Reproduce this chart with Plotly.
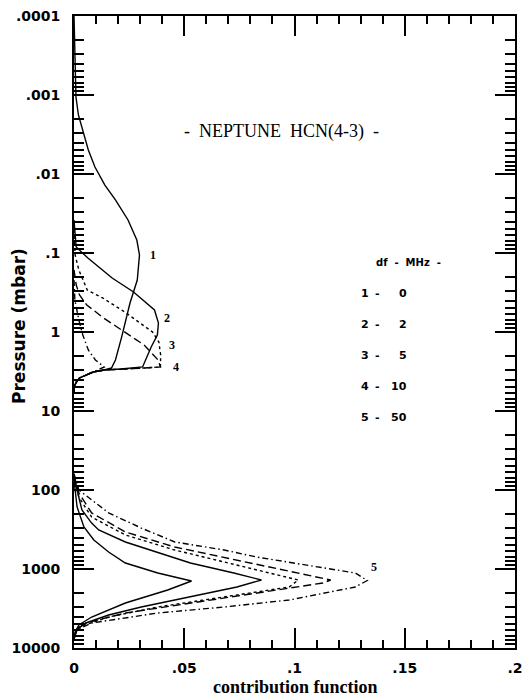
import math
import plotly.graph_objects as go

# ---- data: pressure (mbar) vs contribution function ----
# stratospheric (upper) lobes, one per frequency offset
p_up1 = [1.0e-4, 1.5e-4, 3.6e-4, 1.06e-3, 1.79e-3, 3.03e-3, 4.97e-3, 8.15e-3, 0.0138, 0.0213, 0.0382, 0.0685, 0.106, 0.22, 0.43, 1.16, 2.26, 2.86]
cf_up1 = [0.0, 0.0002, 0.0004, 0.0009, 0.002, 0.0043, 0.0065, 0.0095, 0.014, 0.0188, 0.0245, 0.0285, 0.0297, 0.0287, 0.0254, 0.0216, 0.0188, 0.017]
p_up2 = [0.0382, 0.0512, 0.0839, 0.116, 0.207, 0.312, 0.371, 0.527, 0.769, 1.09, 1.55, 2.26, 2.77]
cf_up2 = [0.0, 0.0003, 0.001, 0.0063, 0.0173, 0.027, 0.030, 0.0365, 0.0383, 0.0378, 0.035, 0.0325, 0.0311]
p_up3 = [0.0512, 0.106, 0.164, 0.294, 0.371, 0.558, 1.0, 1.34, 1.96, 2.77]
cf_up3 = [0.0, 0.0005, 0.0022, 0.006, 0.013, 0.023, 0.0356, 0.0385, 0.0393, 0.0392]
p_up4 = [0.164, 0.254, 0.34, 0.455, 0.665, 0.944, 1.46, 2.26, 2.77]
cf_up4 = [0.0, 0.001, 0.0025, 0.0058, 0.0134, 0.0214, 0.0318, 0.0381, 0.0392]
p_up5 = [0.22, 0.394, 0.705, 1.09, 1.69, 2.26, 2.77]
cf_up5 = [0.0, 0.0004, 0.0022, 0.004, 0.0065, 0.0097, 0.0137]
# common sharp cut-off at the bottom of the stratospheric lobes
p_base = [2.86, 2.94, 3.03, 3.21, 3.50, 3.82, 4.29, 4.83, 5.75]
cf_base = [0.0316, 0.0213, 0.0137, 0.0087, 0.0056, 0.0025, 0.0011, 0.0002, 0.0]

# tropospheric (lower) lobes
p_lo1 = [74.7, 123, 164, 294, 430, 609, 840, 1124, 1262, 1419, 1845, 2692, 4052, 5117, 6300, 7920]
cf_lo1 = [0.0, 0.0009, 0.0014, 0.0045, 0.009, 0.0157, 0.0233, 0.038, 0.0457, 0.0533, 0.0425, 0.0233, 0.008, 0.0022, 0.0005, 0.0]
p_lo2 = [70, 100, 134, 179, 262, 321, 455, 527, 726, 840, 1124, 1377, 1690, 2261, 3029, 3822, 4826, 5916, 7920]
cf_lo2 = [0.0, 0.0013, 0.0022, 0.0036, 0.008, 0.0112, 0.0233, 0.0305, 0.0457, 0.0528, 0.0725, 0.085, 0.0739, 0.0528, 0.0305, 0.0157, 0.0054, 0.0009, 0.0]
p_lo3 = [68, 123, 220, 371, 575, 1030, 1377, 1690, 2261, 3029, 4052, 5424, 6843, 7920]
cf_lo3 = [0.0, 0.0022, 0.008, 0.0233, 0.0457, 0.0828, 0.1017, 0.0976, 0.068, 0.038, 0.0157, 0.0022, 0.0004, 0.0]
p_lo4 = [65, 109, 195, 340, 527, 769, 1030, 1377, 1503, 2013, 2692, 3608, 4826, 5916, 7920]
cf_lo4 = [0.0, 0.0022, 0.008, 0.0233, 0.0457, 0.0739, 0.0963, 0.1164, 0.1129, 0.0828, 0.0528, 0.0233, 0.0054, 0.0009, 0.0]
p_lo5 = [62, 100, 195, 303, 455, 575, 705, 1124, 1400, 1690, 2467, 3029, 3608, 4826, 5916, 7920]
cf_lo5 = [0.0, 0.0022, 0.0157, 0.0305, 0.0457, 0.0681, 0.0828, 0.1276, 0.133, 0.1276, 0.0976, 0.068, 0.038, 0.008, 0.0013, 0.0]

curve_ids = ["1", "2", "3", "4", "5"]
df_mhz = ["0", "2", "5", "10", "50"]
dashes = ["solid", "solid", "3px,3px", "8px,4px", "6px,3px,1.5px,3px"]

# curve-number label positions (pressure, cf)
lab_p = [0.106, 0.665, 1.46, 2.77, 944]
lab_cf = [0.0335, 0.0398, 0.042, 0.044, 0.134]

ytick_vals = [1e-4, 1e-3, 1e-2, 1e-1, 1, 10, 100, 1000, 10000]
ytick_text = [".0001", ".001", ".01", ".1", "1", "10", "100", "1000", "10000"]
xtick_vals = [0, 0.05, 0.1, 0.15, 0.2]
xtick_text = ["0", ".05", ".1", ".15", ".2"]
X_MAX = 0.2
LOG_BOTTOM, LOG_TOP = 4, -4

uppers = [(p_up1, cf_up1), (p_up2, cf_up2), (p_up3, cf_up3), (p_up4, cf_up4), (p_up5, cf_up5)]
lowers = [(p_lo1, cf_lo1), (p_lo2, cf_lo2), (p_lo3, cf_lo3), (p_lo4, cf_lo4), (p_lo5, cf_lo5)]

fig = go.Figure()
for i in range(5):
    pu, cu = uppers[i]
    pl, cl = lowers[i]
    pp = list(pu)
    cc = list(cu)
    for pb, cb in zip(p_base, cf_base):
        if pb > pu[-1] and cb < cu[-1]:
            pp.append(pb)
            cc.append(cb)
    pp += [None] + list(pl)
    cc += [None] + list(cl)
    fig.add_trace(go.Scatter(x=cc, y=pp, mode="lines", connectgaps=False,
                             line=dict(color="black", width=1.4, dash=dashes[i]),
                             showlegend=False, hoverinfo="skip"))

LEFT, RIGHT, TOP, BOTTOM = 74, 523, 16, 648
W, H = 531, 698
pw, ph = RIGHT - LEFT, BOTTOM - TOP

def px(x):
    return (x - LEFT) / pw

def py(y):
    return (BOTTOM - y) / ph

tickfont = dict(family="DejaVu Sans", size=14, color="black", weight="bold")
NB = "\u00a0"

annotations = []
for i in range(5):
    annotations.append(dict(x=lab_cf[i], y=math.log10(lab_p[i]), xref="x", yref="y",
                            text=curve_ids[i], showarrow=False, xanchor="left", yanchor="middle",
                            font=dict(family="Liberation Serif", size=12, color="black", weight="bold")))

annotations.append(dict(x=px(285), y=py(131), xref="paper", yref="paper",
                        text="-" + NB * 2 + "NEPTUNE" + NB * 2 + "HCN(4-3)" + NB * 2 + "-",
                        showarrow=False, xanchor="center", yanchor="middle",
                        font=dict(family="Liberation Serif", size=18, color="black")))
annotations.append(dict(x=px(415), y=py(262), xref="paper", yref="paper",
                        text="df" + NB * 2 + "-" + NB * 2 + "MHz" + NB * 2 + "-", showarrow=False,
                        xanchor="center", yanchor="middle",
                        font=dict(family="DejaVu Sans", size=10, color="black", weight="bold")))
rows_y = [293, 324, 355, 386, 417]
for i in range(5):
    f = dict(family="DejaVu Sans", size=11, color="black", weight="bold")
    annotations.append(dict(x=px(370), y=py(rows_y[i]), xref="paper", yref="paper",
                            text=curve_ids[i], showarrow=False, xanchor="center", yanchor="middle", font=f))
    annotations.append(dict(x=px(383), y=py(rows_y[i]), xref="paper", yref="paper",
                            text="-", showarrow=False, xanchor="center", yanchor="middle", font=f))
    annotations.append(dict(x=px(415), y=py(rows_y[i]), xref="paper", yref="paper",
                            text=df_mhz[i], showarrow=False, xanchor="right", yanchor="middle", font=f))

annotations.append(dict(x=px(300), y=py(687), xref="paper", yref="paper",
                        text="contribution function", showarrow=False,
                        xanchor="center", yanchor="middle",
                        font=dict(family="Liberation Serif", size=18, color="black", weight="bold")))
annotations.append(dict(x=px(18), y=py(326), xref="paper", yref="paper",
                        text="Pressure (mbar)", showarrow=False, textangle=-90,
                        xanchor="center", yanchor="middle",
                        font=dict(family="DejaVu Sans", size=17, color="black", weight="bold")))

fig.update_layout(
    width=W, height=H,
    margin=dict(l=LEFT, r=W - RIGHT, t=TOP, b=H - BOTTOM),
    paper_bgcolor="white", plot_bgcolor="white",
    annotations=annotations,
    xaxis=dict(range=[0, X_MAX], tickmode="array", tickvals=xtick_vals, ticktext=xtick_text,
               ticks="inside", ticklen=20, tickwidth=1.5, tickcolor="black",
               minor=dict(dtick=0.01, ticks="inside", ticklen=8, tickwidth=1.5, tickcolor="black"),
               showline=True, linecolor="black", linewidth=2, mirror="allticks",
               showgrid=False, zeroline=False, tickfont=tickfont, ticklabelstandoff=6),
    yaxis=dict(type="log", range=[LOG_BOTTOM, LOG_TOP], tickmode="array",
               tickvals=ytick_vals, ticktext=ytick_text,
               ticks="inside", ticklen=20, tickwidth=1.5, tickcolor="black",
               minor=dict(ticks="inside", ticklen=10, tickwidth=1.5, tickcolor="black", dtick="D1"),
               showline=True, linecolor="black", linewidth=2, mirror="allticks",
               showgrid=False, zeroline=False, tickfont=tickfont, ticklabelstandoff=9),
)

fig.write_html("out.html")
